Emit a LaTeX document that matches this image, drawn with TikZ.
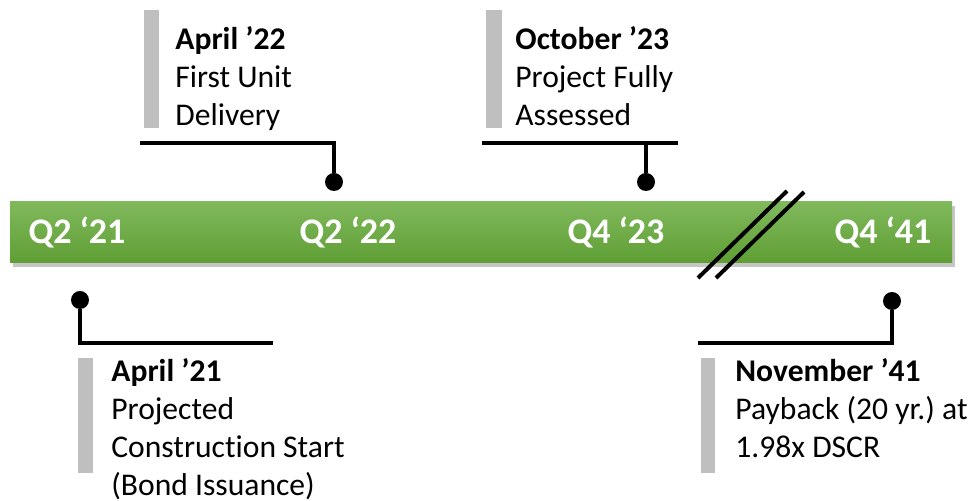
\documentclass[tikz,border=0pt]{standalone}
\usepackage{fontspec}
\setmainfont[Ligatures=NoCommon]{Carlito}
\usetikzlibrary{shadows}
\definecolor{barlight}{RGB}{128,185,92}
\definecolor{bardark}{RGB}{95,158,52}
\definecolor{tabgray}{RGB}{191,191,191}
\tikzstyle{timebar} = [rectangle, top color=barlight, bottom color=bardark, minimum width=471pt, minimum height=30.5pt, drop shadow={shadow xshift=1.5pt, shadow yshift=-2pt, opacity=0.45}]
\tikzstyle{quarter} = [text=white, font=\fontsize{18}{21}\selectfont\bfseries, anchor=base, inner sep=0pt]
\tikzstyle{milestone} = [align=left, anchor=north west, inner sep=0pt, font=\fontsize{15.8}{19}\selectfont\frenchspacing]
\tikzstyle{dot} = [circle, fill=black, inner sep=0pt, minimum size=9pt]
\tikzstyle{leader} = [line width=2.2pt]
\tikzstyle{tab} = [fill=tabgray]
\tikzstyle{breakmark} = [line width=2pt]

\begin{document}
\frenchspacing
\begin{tikzpicture}[x=0.5pt, y=-0.5pt]
  \useasboundingbox (0,0) rectangle (976,501);

  % the time bar
  \node (bar) [timebar] at (481,232.5) {};
  \node (q1) [quarter] at (77,244) {Q2 ‘21};
  \node (q2) [quarter] at (348,244) {Q2 ‘22};
  \node (q3) [quarter] at (616,244) {Q4 ‘23};
  \node (q4) [quarter] at (883,244) {Q4 ‘41};
  \draw [breakmark] (698,278) -- (787,191);
  \draw [breakmark] (716,278) -- (804,192);

  % milestones above
  \fill [tab] (144,10) rectangle (159,128);
  \node (m1) [milestone] at (175,26) {\textbf{April ’22}\\First Unit\\Delivery};
  \node (d1) [dot] at (334,182) {};
  \coordinate (c1) at (140,143);
  \draw [leader] (c1) -| (d1);

  \fill [tab] (486,10) rectangle (502,128);
  \node (m2) [milestone] at (515,26) {\textbf{October ’23}\\Project Fully\\Assessed};
  \node (d2) [dot] at (646,182) {};
  \coordinate (c2a) at (482,143);
  \coordinate (c2b) at (678,143);
  \draw [leader] (c2a) -- (c2b);
  \draw [leader] (d2) -- (d2 |- c2a);

  % milestones below
  \node (d3) [dot] at (80,300) {};
  \coordinate (c3) at (273,343);
  \draw [leader] (d3) |- (c3);
  \fill [tab] (78,358) rectangle (93,473);
  \node (m3) [milestone] at (111,358) {\textbf{April ’21}\\Projected\\Construction Start\\(Bond Issuance)};

  \node (d4) [dot] at (892,301) {};
  \coordinate (c4) at (698,343);
  \draw [leader] (d4) |- (c4);
  \fill [tab] (701,358) rectangle (715,473);
  \node (m4) [milestone] at (735,358) {\textbf{November ’41}\\Payback (20 yr.) at\\1.98x DSCR};
\end{tikzpicture}
\end{document}
